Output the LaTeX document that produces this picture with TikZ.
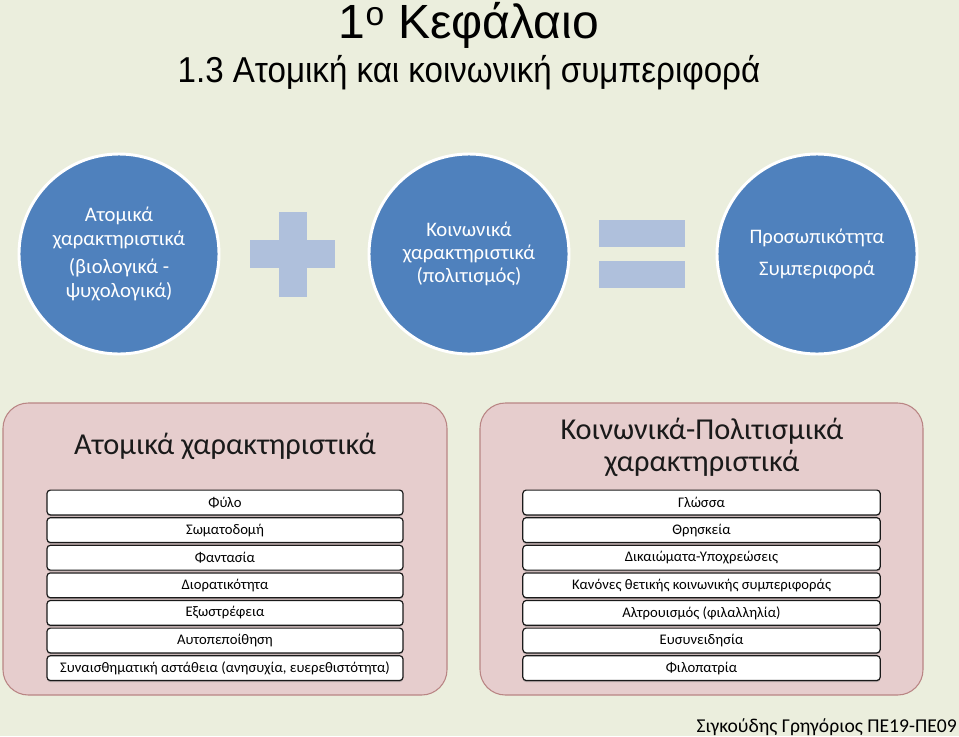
\documentclass[tikz,border=0pt]{standalone}
\usepackage{fontspec}
\setmainfont{Carlito}
\newfontfamily\headfont{Liberation Sans}
\usepackage{xcolor}
\usepackage{tikz}
\usetikzlibrary{shadows}
\definecolor{paper}{HTML}{EBEEDD}
\definecolor{offblue}{HTML}{4F81BD}
\definecolor{signblue}{HTML}{AFC0DC}
\definecolor{panelfill}{HTML}{E6CDCD}
\definecolor{panelline}{HTML}{B98584}
\definecolor{ink}{HTML}{1A1A1A}
\tikzset{
  bubble/.style={circle, fill=offblue, draw=white, line width=2.2pt, minimum size=150pt,
    inner sep=0pt, text=white, align=center, font=\fontsize{15.5}{17.5}\selectfont},
  sign/.style={fill=signblue},
  panel/.style={draw=panelline, fill=panelfill, line width=0.8pt, rounded corners=19pt},
  ptitle/.style={text=ink, align=center, font=\fontsize{22.8}{24}\selectfont},
  item/.style={draw=ink, fill=white, line width=0.9pt, rounded corners=2.5pt,
    minimum height=18.6pt, inner sep=0pt, text=black, font=\fontsize{11}{12}\selectfont,
    drop shadow={opacity=0.45, shadow xshift=0pt, shadow yshift=-1.2pt}},
  lwide/.style={item, minimum width=267pt},
  rwide/.style={item, minimum width=268pt},
}
\begin{document}
\begin{tikzpicture}[x=0.75pt, y=-0.75pt]
  \fill[paper] (0,0) rectangle (959,736);
  \useasboundingbox (0,0) rectangle (959,736);
  % headings
  \node[anchor=base, font=\headfont\fontsize{36}{40}\selectfont] (title) at (469,38) {1\textsuperscript{ο} Κεφάλαιο};
  \node[anchor=base, font=\headfont\fontsize{27}{30}\selectfont, xscale=0.92] (subtitle) at (469,82) {1.3 Ατομική και κοινωνική συμπεριφορά};
  % top row
  \node[bubble] (atom) at (119,254) {Ατομικά\\χαρακτηριστικά\\[4pt](βιολογικά -\\ψυχολογικά)};
  \node[bubble] (koin) at (469,254) {Κοινωνικά\\χαρακτηριστικά\\(πολιτισμός)};
  \node[bubble, font=\fontsize{15.5}{24}\selectfont] (pros) at (817,254) {Προσωπικότητα\\Συμπεριφορά};
  \fill[sign] (279,212) rectangle (307,297);
  \fill[sign] (250,240) rectangle (335,268);
  \fill[sign] (599,220) rectangle (685,247);
  \fill[sign] (599,261) rectangle (685,288);
  % panels
  \draw[panel] (3,403) rectangle (447,695);
  \draw[panel] (480,403) rectangle (923,695);
  \node[ptitle] (ltitle) at (225,446) {Ατομικά χαρακτηριστικά};
  \node[ptitle] (rtitle) at (702,447) {Κοινωνικά-Πολιτισμικά\\χαρακτηριστικά};
  % left list
  \node[lwide] (a1) at (225,502.5) {Φύλο};
  \node[lwide] (a2) at (225,530.1) {Σωματοδομή};
  \node[lwide] (a3) at (225,557.7) {Φαντασία};
  \node[lwide] (a4) at (225,585.3) {Διορατικότητα};
  \node[lwide] (a5) at (225,612.9) {Εξωστρέφεια};
  \node[lwide] (a6) at (225,640.5) {Αυτοπεποίθηση};
  \node[lwide] (a7) at (225,668.1) {Συναισθηματική αστάθεια (ανησυχία, ευερεθιστότητα)};
  % right list
  \node[rwide] (k1) at (701.5,502.5) {Γλώσσα};
  \node[rwide] (k2) at (701.5,530.1) {Θρησκεία};
  \node[rwide] (k3) at (701.5,557.7) {Δικαιώματα-Υποχρεώσεις};
  \node[rwide] (k4) at (701.5,585.3) {Κανόνες θετικής κοινωνικής συμπεριφοράς};
  \node[rwide] (k5) at (701.5,612.9) {Αλτρουισμός (φιλαλληλία)};
  \node[rwide] (k6) at (701.5,640.5) {Ευσυνειδησία};
  \node[rwide] (k7) at (701.5,668.1) {Φιλοπατρία};
  % footer
  \node[anchor=base east, inner sep=0pt, font=\fontsize{14.7}{16}\selectfont] (sign) at (957,732) {Σιγκούδης Γρηγόριος ΠΕ19-ΠΕ09};
\end{tikzpicture}
\end{document}
